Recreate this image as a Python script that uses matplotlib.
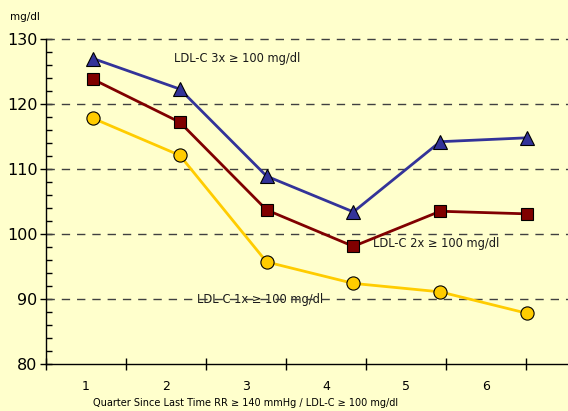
import numpy as np
import matplotlib
matplotlib.use('Agg')
import matplotlib.pyplot as plt
from matplotlib.ticker import MultipleLocator, FixedLocator, NullFormatter

# values (mg/dl) per quarter
quarters = [1, 2, 3, 4, 5, 6]
ldl_3x = [127.0, 122.3, 108.9, 103.4, 114.2, 114.8]
ldl_2x = [123.8, 117.2, 103.7, 98.1, 103.5, 103.1]
ldl_1x = [117.8, 112.1, 95.7, 92.4, 91.1, 87.8]
tick_labels = ['1', '2', '3', '4', '5', '6']

bg = '#FFFFCC'
fig = plt.figure(figsize=(5.68, 4.11), dpi=100, facecolor=bg)
ax = fig.add_axes([46 / 568, 47 / 411, 522 / 568, 325 / 411], facecolor=bg)

# the original's category spacing (px) vs label spacing (px)
cat_px = 86.8
x_left = 1 - 47 / cat_px
x_right = 1 + 475 / cat_px
ax.set_xlim(x_left, x_right)
ax.set_ylim(80, 130)

ax.plot(quarters, ldl_3x, color='#333399', lw=2, marker='^', ms=10,
        mfc='#333399', mec='black', mew=0.8, zorder=4)
ax.plot(quarters, ldl_2x, color='#800000', lw=2, marker='s', ms=9,
        mfc='#800000', mec='black', mew=0.8, zorder=4)
ax.plot(quarters, ldl_1x, color='#FFCC00', lw=2, marker='o', ms=9.5,
        mfc='#FFCC00', mec='black', mew=0.8, zorder=4)

for yv in [90, 100, 110, 120, 130]:
    ax.axhline(yv, color='#404040', lw=1, ls=(0, (6, 5)), zorder=2, clip_on=False)

ax.text(1.93, 127.0, 'LDL-C 3x \u2265 100 mg/dl', fontsize=8.3, color='#1a1a1a', va='center', ha='left')
ax.text(4.23, 98.5, 'LDL-C 2x \u2265 100 mg/dl', fontsize=8.3, color='#1a1a1a', va='center', ha='left')
ax.text(2.20, 89.9, 'LDL-C 1x \u2265 100 mg/dl', fontsize=8.3, color='#1a1a1a', va='center', ha='left',
        zorder=1)

# y axis
ax.yaxis.set_major_locator(MultipleLocator(10))
ax.yaxis.set_minor_locator(MultipleLocator(2))
ax.tick_params(axis='y', which='major', direction='inout', length=8, width=1, labelsize=11.5, pad=2)
ax.tick_params(axis='y', which='minor', direction='in', length=4, width=1)

# x axis: boundary ticks and labels offset like the original
bounds = [1 + (46 + 80 * k - 93) / cat_px for k in range(7)]
label_pos = [1 + (86 + 80 * k - 93) / cat_px for k in range(6)]
ax.xaxis.set_major_locator(FixedLocator(bounds))
ax.xaxis.set_major_formatter(NullFormatter())
ax.tick_params(axis='x', which='major', direction='inout', length=8, width=1)
for pos, lab in zip(label_pos, tick_labels):
    ax.text(pos, -0.07, lab, transform=ax.get_xaxis_transform(), ha='center', va='center', fontsize=9)

for s in ['top', 'right']:
    ax.spines[s].set_visible(False)
ax.spines['left'].set_linewidth(1)
ax.spines['bottom'].set_linewidth(1)

fig.text(246 / 568, 1 - 403 / 411, 'Quarter Since Last Time RR \u2265 140 mmHg / LDL-C \u2265 100 mg/dl',
         ha='center', va='center', fontsize=7)
fig.text(10 / 568, 1 - 17 / 411, 'mg/dl', ha='left', va='center', fontsize=7.5)

fig.savefig('out.png', dpi=100, facecolor=bg)
